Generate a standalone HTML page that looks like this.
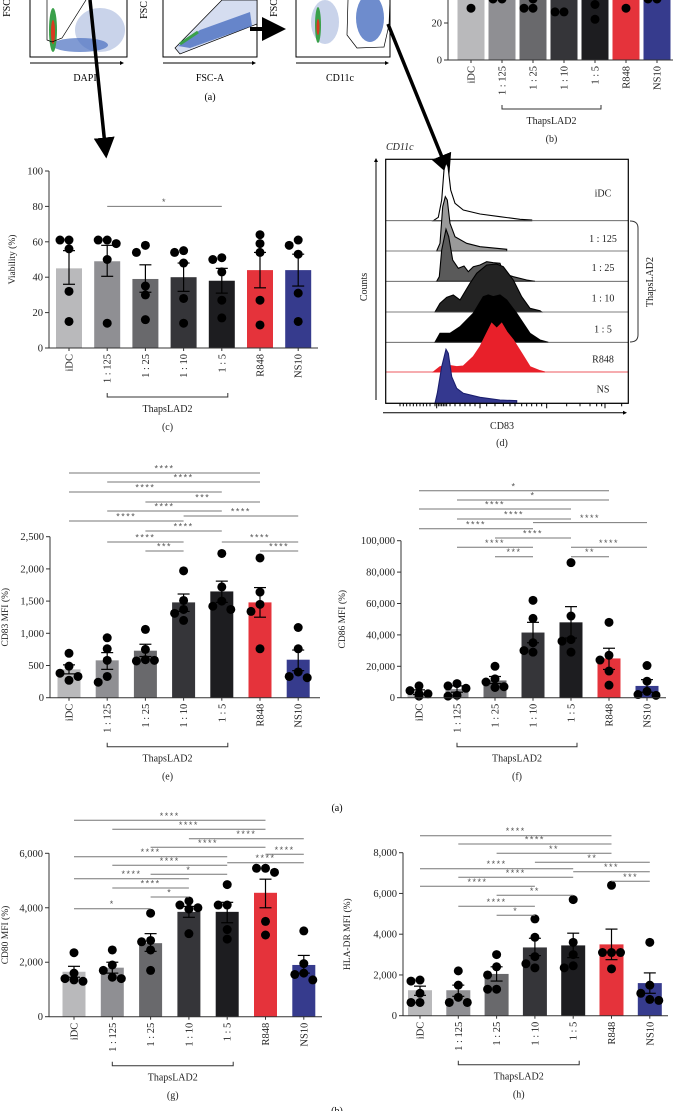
<!DOCTYPE html>
<html><head><meta charset="utf-8">
<style>
html,body{margin:0;padding:0;background:#fff;}
svg{display:block;font-family:"Liberation Serif",serif;}
</style></head>
<body>
<svg id="fig" width="673" height="1111" viewBox="0 0 673 1111" xmlns="http://www.w3.org/2000/svg">
  <defs>
    <marker id="ah" markerWidth="6" markerHeight="6" refX="5" refY="3" orient="auto"><path d="M0,0 L6,3 L0,6 z" fill="#000"/></marker>
    <marker id="ahb" markerWidth="4" markerHeight="4" refX="2" refY="2" orient="auto"><path d="M0,0 L4,2 L0,4 z" fill="#000"/></marker>
  </defs>
  <g>
    <polyline points="30,0 30,57 127,57 127,0" fill="none" stroke="#000" stroke-width="1"/>
    <ellipse cx="100" cy="30" rx="25" ry="22" fill="#c9d3ea"/>
    <ellipse cx="80" cy="45" rx="28" ry="7" fill="#4a6fc0" opacity="0.7"/>
    <ellipse cx="53" cy="30" rx="4" ry="22" fill="#3aa04a"/>
    <ellipse cx="53" cy="32" rx="2" ry="12" fill="#d83a20"/>
    <polyline points="47,0 47,40 52,42 62,38 86,0" fill="none" stroke="#000" stroke-width="0.7"/>
    <line x1="30" y1="63" x2="122" y2="63" stroke="#000" marker-end="url(#ahb)"/>
    <text x="10" y="8" font-size="10" transform="rotate(-90 10 8)" text-anchor="middle">FSC</text>
    <text x="85" y="81" font-size="10" text-anchor="middle">DAPI</text>
  </g>
  <g>
    <polyline points="163,0 163,57 257,57 257,0" fill="none" stroke="#000" stroke-width="1"/>
    <polygon points="175,48 222,0 257,0 257,24 180,54" fill="#d5ddf0" stroke="#000" stroke-width="0.7"/>
    <polygon points="178,46 200,30 250,12 252,26 190,48" fill="#4a6fc0" opacity="0.8"/>
    <line x1="180" y1="44" x2="198" y2="32" stroke="#3aa04a" stroke-width="3"/>
    <line x1="163" y1="63" x2="254" y2="63" stroke="#000" marker-end="url(#ahb)"/>
    <text x="147" y="10" font-size="10" transform="rotate(-90 147 10)" text-anchor="middle">FSC</text>
    <text x="210" y="81" font-size="10" text-anchor="middle">FSC-A</text>
    <text x="210" y="100" font-size="10" text-anchor="middle">(a)</text>
  </g>
  <g>
    <polyline points="296,0 296,57 390,57 390,0" fill="none" stroke="#000" stroke-width="1"/>
    <ellipse cx="325" cy="22" rx="14" ry="22" fill="#c9d3ea"/>
    <ellipse cx="318" cy="25" rx="3" ry="18" fill="#3aa04a"/>
    <ellipse cx="318" cy="27" rx="1.5" ry="8" fill="#d83a20"/>
    <ellipse cx="370" cy="18" rx="14" ry="24" fill="#4a6fc0" opacity="0.8"/>
    <polyline points="348,0 347,35 357,48 384,47 389,25 390,0" fill="none" stroke="#000" stroke-width="0.7"/>
    <line x1="296" y1="63" x2="387" y2="63" stroke="#000" marker-end="url(#ahb)"/>
    <text x="277" y="8" font-size="10" transform="rotate(-90 277 8)" text-anchor="middle">FSC</text>
    <text x="340" y="81" font-size="10" text-anchor="middle">CD11c</text>
  </g>
  <line x1="250" y1="29" x2="282" y2="29" stroke="#000" stroke-width="4" marker-end="url(#ah)"/>
  <line x1="90" y1="0" x2="106" y2="155" stroke="#000" stroke-width="3.5" marker-end="url(#ah)"/>
  <line x1="388" y1="24" x2="448" y2="172" stroke="#000" stroke-width="3.5" marker-end="url(#ah)"/>
  <g id="charts"></g>
  <g id="hist"></g>
  <text x="337" y="811" font-size="10" text-anchor="middle">(a)</text>
  <text x="337" y="1114" font-size="10" text-anchor="middle">(b)</text>
</svg>
<script>
const categories = ["iDC","1 : 125","1 : 25","1 : 10","1 : 5","R848","NS10"];
const barColors = ["#b9b9bb","#8f8f93","#69696c","#353539","#1d1d20","#e5333b","#363b8d"];

const bMeans = [45,49,39,40,38,44,44];
const bPoints = [[28,35],[33,33],[28,28,33],[26,26],[22,30,35],[28],[33,33]];

const cMeans = [45,49,39,40,38,44,44];
const cErrLo = [36,40.5,31.5,32,31,34,35];
const cErrHi = [55,58,47,48,45,54,53];
const cPoints = [[61,61,56,32,15],[61,61,59,50,14],[58,54,35,30,16],[55,54,48,28,14],[51,50,43,27,17],[64,59,54,27,13],[61,58,53,31,15]];
const cTicks = [0,20,40,60,80,100];
const cSig = [[1,4,80,"*"]];

const eMeans = [440,580,730,1480,1650,1480,590];
const eErrLo = [370,440,640,1340,1480,1250,420];
const eErrHi = [510,700,830,1610,1810,1710,740];
const ePoints = [[690,490,380,270,330],[930,760,580,330,240],[1060,750,590,570,580],[1970,1510,1370,1310,1200],[2240,1720,1500,1420,1370],[2170,1640,1450,1340,760],[1090,760,400,330,310]];
const eTicks = [0,500,1000,1500,2000,2500];
const eTickLabels = ["0","500","1,000","1,500","2,000","2,500"];
const eSig = [[0,5,3489,"****"],[1,5,3350,"****"],[0,4,3194,"****"],[2,5,3039,"***"],[1,4,2899,"****"],[3,6,2822,"****"],[0,3,2744,"****"],[2,4,2589,"****"],[1,3,2418,"****"],[4,6,2418,"****"],[2,3,2278,"***"],[5,6,2278,"****"]];

const fMeans = [3500,5500,11000,41500,48000,25000,7500];
const fErrLo = [2000,3500,9000,35000,38000,18000,3500];
const fErrHi = [5000,7500,13500,48000,58000,31500,11500];
const fPoints = [[7500,4500,2500,2500,1000],[9000,7500,6000,1500,1000],[20000,12000,10000,7000,6500],[62000,50500,35000,30000,29000],[86000,52000,37000,36000,29000],[48000,27000,24000,17000,8000],[20500,10500,4000,2000,1500]];
const fTicks = [0,20000,40000,60000,80000,100000];
const fTickLabels = ["0","20,000","40,000","60,000","80,000","100,000"];
const fSig = [[0,5,131800,"*"],[1,5,125900,"*"],[0,4,120200,"****"],[1,4,113800,"****"],[3,6,111500,"****"],[0,3,107600,"****"],[2,4,101700,"****"],[1,3,95800,"****"],[4,6,95800,"****"],[2,3,89800,"***"],[4,5,89800,"**"]];

const gMeans = [1650,1800,2700,3850,3850,4550,1900];
const gErrLo = [1450,1600,2400,3650,3450,4000,1600];
const gErrHi = [1850,2000,3050,4050,4200,5050,2250];
const gPoints = [[2350,1600,1400,1300,1350],[2450,1900,1700,1450,1400],[3800,2800,2750,2450,1700],[4250,4100,4000,3950,3050],[4850,4100,4100,3200,2850],[5450,5450,5300,3500,3000],[3150,1950,1600,1550,1350]];
const gTicks = [0,2000,4000,6000];
const gTickLabels = ["0","2,000","4,000","6,000"];
const gSig = [[0,5,7212,"****"],[1,5,6881,"****"],[3,6,6536,"****"],[2,5,6220,"****"],[5,6,5963,"****"],[0,4,5875,"****"],[4,6,5655,"****"],[1,4,5559,"****"],[2,4,5229,"*"],[0,3,5067,"****"],[1,3,4726,"****"],[2,3,4395,"*"],[0,2,3966,"*"]];

const hMeans = [1250,1250,2050,3350,3450,3500,1600];
const hErrLo = [1000,950,1700,2950,2850,2750,1100];
const hErrHi = [1450,1500,2400,3800,4050,4250,2100];
const hPoints = [[1750,1700,1100,650,650],[2200,1500,900,650,650],[3000,2400,2000,1300,1300],[4750,3850,2900,2550,2350],[5700,3600,3000,2450,2350],[6400,3100,3100,3100,2300],[3600,1500,1100,800,750]];
const hTicks = [0,2000,4000,6000,8000];
const hTickLabels = ["0","2,000","4,000","6,000","8,000"];
const hSig = [[0,5,8834,"****"],[1,5,8427,"****"],[2,5,7971,"**"],[3,6,7529,"**"],[0,4,7215,"****"],[4,6,7068,"***"],[1,4,6793,"****"],[5,6,6596,"***"],[0,3,6351,"****"],[2,4,5909,"**"],[1,3,5369,"****"],[2,3,4928,"*"]];

const histRows = ["iDC","1 : 125","1 : 25","1 : 10","1 : 5","R848","NS"];
const histFills = ["#ffffff","#9a9a9a","#5a5a5a","#232323","#000000","#e8202a","#34388f"];
const histCurves = [
 [[280,242],[295,232],[305,180],[312,90],[318,68],[324,80],[332,150],[345,190],[370,210],[420,222],[480,230],[540,238],[575,240],[575,242]],
 [[290,333],[300,310],[308,200],[316,170],[322,180],[330,250],[345,290],[380,310],[420,320],[500,328],[500,333]],
 [[290,424],[298,410],[305,330],[318,268],[326,290],[338,360],[355,385],[372,378],[385,395],[400,380],[420,375],[440,365],[460,368],[480,370],[490,400],[520,410],[560,420],[585,424]],
 [[285,516],[300,490],[320,472],[340,465],[360,480],[390,430],[410,400],[440,375],[470,372],[490,380],[520,420],[545,470],[570,505],[600,512],[605,516]],
 [[285,607],[300,580],[330,580],[360,560],[400,520],[430,470],[445,465],[460,470],[480,465],[500,480],[530,520],[570,580],[600,600],[625,607]],
 [[280,696],[300,680],[320,675],[350,680],[370,678],[400,650],[420,620],[440,580],[455,550],[470,565],[485,550],[500,575],[520,600],[545,640],[570,680],[600,692],[615,696]],
 [[285,790],[292,760],[305,680],[318,628],[325,640],[335,710],[350,745],[370,760],[420,772],[480,780],[530,782],[530,790]]
];

const NS = "http://www.w3.org/2000/svg";
function mk(parent, tag, attrs, txt){
  const el = document.createElementNS(NS, tag);
  for (const k in attrs) el.setAttribute(k, attrs[k]);
  if (txt !== undefined) el.textContent = txt;
  parent.appendChild(el);
  return el;
}
const root = document.getElementById("charts");

function barChart(o){
  const g = mk(root, "g", {});
  
  
  const yS = v => o.y0 - (v / o.vmax) * (o.y0 - o.yTop);
  const xS = i => o.x1 + i * o.step;
  o.means.forEach((m, i) => {
    const top = yS(m);
    const r = mk(g, "rect", {x: xS(i) - o.bw/2, y: top, width: o.bw, height: o.y0 - top, fill: barColors[i]});
    
    
  });
  if (o.lo) o.lo.forEach((lo, i) => {
    const x = xS(i);
    const eg = mk(g, "g", {stroke: "#000", "stroke-width": 1.2});
    
    
    mk(eg, "line", {x1: x, x2: x, y1: yS(lo), y2: yS(o.hi[i])});
    mk(eg, "line", {x1: x-6, x2: x+6, y1: yS(lo), y2: yS(lo)});
    mk(eg, "line", {x1: x-6, x2: x+6, y1: yS(o.hi[i]), y2: yS(o.hi[i])});
  });
  o.points.forEach((pts, i) => {
    const placed = [];
    pts.forEach(v => {
      const py = yS(v);
      const offs = [0, -9, 9, -14, 14];
      let px = xS(i);
      for (const d of offs) {
        const cx = xS(i) + d;
        if (placed.every(p => Math.hypot(p[0]-cx, p[1]-py) >= 8.5)) { px = cx; break; }
      }
      placed.push([px, py]);
      const c = mk(g, "circle", {cx: px, cy: py, r: 4.5, fill: "#000"});
      
      
    });
  });
  const ax = mk(g, "g", {stroke: "#333", "stroke-width": 1});
  
  
  mk(ax, "line", {x1: o.ax, x2: o.ax, y1: o.axisTop !== undefined ? o.axisTop : yS(o.ticks[o.ticks.length-1]), y2: o.y0});
  mk(ax, "line", {x1: o.ax, x2: o.xEnd, y1: o.y0, y2: o.y0});
  o.ticks.forEach((t, k) => {
    const y = yS(t);
    if (y < -1) return;
    mk(ax, "line", {x1: o.ax - 4, x2: o.ax, y1: y, y2: y});
    const tl = mk(g, "text", {x: o.ax - 6, y: y + 3.5, "font-size": 10.5, "text-anchor": "end", fill: "#222"}, o.tickLabels ? o.tickLabels[k] : String(t));
    
    
  });
  categories.forEach((c, i) => {
    mk(ax, "line", {x1: xS(i), x2: xS(i), y1: o.y0, y2: o.y0 + 3});
    const t = mk(g, "text", {x: 0, y: 0, "font-size": 10.5, "text-anchor": "end", fill: "#222",
      transform: `translate(${xS(i) + 3.5},${o.y0 + 6}) rotate(-90)`}, c);
    
    
  });
  const bk = o.y0 + 49;
  const br = mk(g, "polyline", {points: `${xS(1)},${bk-4} ${xS(1)},${bk} ${xS(4)+6},${bk} ${xS(4)+6},${bk-4}`, fill: "none", stroke: "#333", "stroke-width": 1});
  
  
  const bt = mk(g, "text", {x: (xS(1) + xS(4)) / 2 + 3, y: bk + 15, "font-size": 10, "text-anchor": "middle", fill: "#222"}, "ThapsLAD2");
  
  
  if (o.panel) {
    const pl = mk(g, "text", {x: (xS(2) + xS(3)) / 2 + 3, y: bk + 33, "font-size": 10, "text-anchor": "middle", fill: "#222"}, o.panel);
    
    
  }
  if (o.title) {
    const yc = (o.y0 + yS(o.ticks[o.ticks.length-1])) / 2;
    const ti = mk(g, "text", {x: 0, y: 0, "font-size": 9.5, "text-anchor": "middle", fill: "#222",
      transform: `translate(${o.titleX},${yc}) rotate(-90)`}, o.title);
    
    
  }
  (o.sig || []).forEach(s => {
    const y = yS(s[2]);
    const l = mk(g, "line", {x1: xS(s[0]), x2: xS(s[1]), y1: y, y2: y, stroke: "#777", "stroke-width": 1});
    
    
    const st = mk(g, "text", {x: (xS(s[0]) + xS(s[1])) / 2, y: y - 1.5, "font-size": 9, "letter-spacing": 1.5, "text-anchor": "middle", fill: "#555", "font-family": "Liberation Sans, sans-serif"}, s[3]);
    
    
  });
}

barChart({name: "viability-chart-b", x1: 471, step: 31, bw: 27, ax: 448, xEnd: 673, y0: 60, yTop: 23, vmax: 20,
  ticks: [0,20], means: bMeans, points: bPoints, axisTop: 0, panel: "(b)"});
barChart({name: "viability-chart-c", x1: 69, step: 38.2, bw: 26, ax: 49, xEnd: 318, y0: 348, yTop: 171, vmax: 100,
  ticks: cTicks, means: cMeans, lo: cErrLo, hi: cErrHi, points: cPoints, sig: cSig, panel: "(c)", title: "Viability (%)", titleX: 15});
barChart({name: "cd83-mfi-chart-e", x1: 69, step: 38.2, bw: 23, ax: 50, xEnd: 320, y0: 697.7, yTop: 536.7, vmax: 2500,
  ticks: eTicks, tickLabels: eTickLabels, means: eMeans, lo: eErrLo, hi: eErrHi, points: ePoints, sig: eSig, panel: "(e)", title: "CD83 MFI (%)", titleX: 8});
barChart({name: "cd86-mfi-chart-f", x1: 419, step: 38, bw: 23, ax: 401, xEnd: 666, y0: 697.7, yTop: 540.7, vmax: 100000,
  ticks: fTicks, tickLabels: fTickLabels, means: fMeans, lo: fErrLo, hi: fErrHi, points: fPoints, sig: fSig, panel: "(f)", title: "CD86 MFI (%)", titleX: 345});
barChart({name: "cd80-mfi-chart-g", x1: 74, step: 38.3, bw: 23, ax: 49, xEnd: 322, y0: 1016.7, yTop: 853.3, vmax: 6000,
  ticks: gTicks, tickLabels: gTickLabels, means: gMeans, lo: gErrLo, hi: gErrHi, points: gPoints, sig: gSig, panel: "(g)", title: "CD80 MFI (%)", titleX: 8});
barChart({name: "hla-dr-mfi-chart-h", x1: 420, step: 38.3, bw: 24, ax: 403, xEnd: 668, y0: 1015.7, yTop: 852.7, vmax: 8000,
  ticks: hTicks, tickLabels: hTickLabels, means: hMeans, lo: hErrLo, hi: hErrHi, points: hPoints, sig: hSig, panel: "(h)", title: "HLA-DR MFI (%)", titleX: 350});

(function(){
  const hg = document.getElementById("hist");
  
  
  const px = x => x / 3 + 340, py = y => y / 3 + 140;
  const left = 385.7, right = 628.3, top = 159.3, bottom = 403.3;
  const base = [220.7, 251, 281.3, 312, 342.3, 372, 403.3];
  const labY = [193, 238.7, 267.7, 298, 329, 359, 389];
  histCurves.forEach((pts, i) => {
    const d = "M" + pts.map(p => px(p[0]).toFixed(1) + "," + py(p[1]).toFixed(1)).join(" L") + " Z";
    const stroke = i === 5 ? "#e8202a" : (i === 6 ? "#1a1e6e" : "#000");
    const p = mk(hg, "path", {d: d, fill: histFills[i], stroke: stroke, "stroke-width": 1.1});
    
    
    const bl = mk(hg, "line", {x1: left, x2: right, y1: base[i], y2: base[i], stroke: i === 5 ? "#e8202a" : "#555", "stroke-width": 0.8});
    
    
    const t = mk(hg, "text", {x: 603, y: labY[i] + 3.5, "font-size": 10, "text-anchor": "middle", fill: "#222"}, histRows[i]);
    
    
  });
  const fr = mk(hg, "rect", {x: left, y: top, width: right - left, height: bottom - top, fill: "none", stroke: "#000", "stroke-width": 1.2});
  
  
  const tickX = [180,190,200,210,220,230,240,250,260,270,285,290,295,300,305,310,315,320,330,345,360,375,390,405,420,440,465,490,510,525,545,560,575,590,605,620,680,720,750,770,785,795,845];
  tickX.forEach(x => {
    const tl = mk(hg, "line", {x1: px(x), x2: px(x), y1: bottom, y2: bottom + ((x===420||x===620||x===795||x===290)?5:3), stroke: "#000", "stroke-width": 1});
    
    
  });
  const xa = mk(hg, "line", {x1: 383, x2: 625, y1: 412.7, y2: 412.7, stroke: "#000", "stroke-width": 1, "marker-end": "url(#ahb)"});
  
  
  const ya = mk(hg, "line", {x1: 376, x2: 376, y1: 400, y2: 160, stroke: "#000", "stroke-width": 1, "marker-end": "url(#ahb)"});
  
  
  const br = mk(hg, "path", {d: "M630,221 Q638,221 638,228 L638,335 Q638,342 630,342", fill: "none", stroke: "#333", "stroke-width": 1});
  
  
  const tl = mk(hg, "text", {x: 0, y: 0, "font-size": 10, "text-anchor": "middle", fill: "#222", transform: "translate(653,282) rotate(-90)"}, "ThapsLAD2");
  
  
  const cl = mk(hg, "text", {x: 0, y: 0, "font-size": 10, "text-anchor": "middle", fill: "#222", transform: "translate(367,287) rotate(-90)"}, "Counts");
  
  
  const c11 = mk(hg, "text", {x: 386, y: 150, "font-size": 10, "font-style": "italic", fill: "#222"}, "CD11c");
  
  
  const xt = mk(hg, "text", {x: 502, y: 429, "font-size": 10, "text-anchor": "middle", fill: "#222"}, "CD83");
  
  
  const pd = mk(hg, "text", {x: 502, y: 446, "font-size": 10, "text-anchor": "middle", fill: "#222"}, "(d)");
  
  
})();
</script>
</body></html>
